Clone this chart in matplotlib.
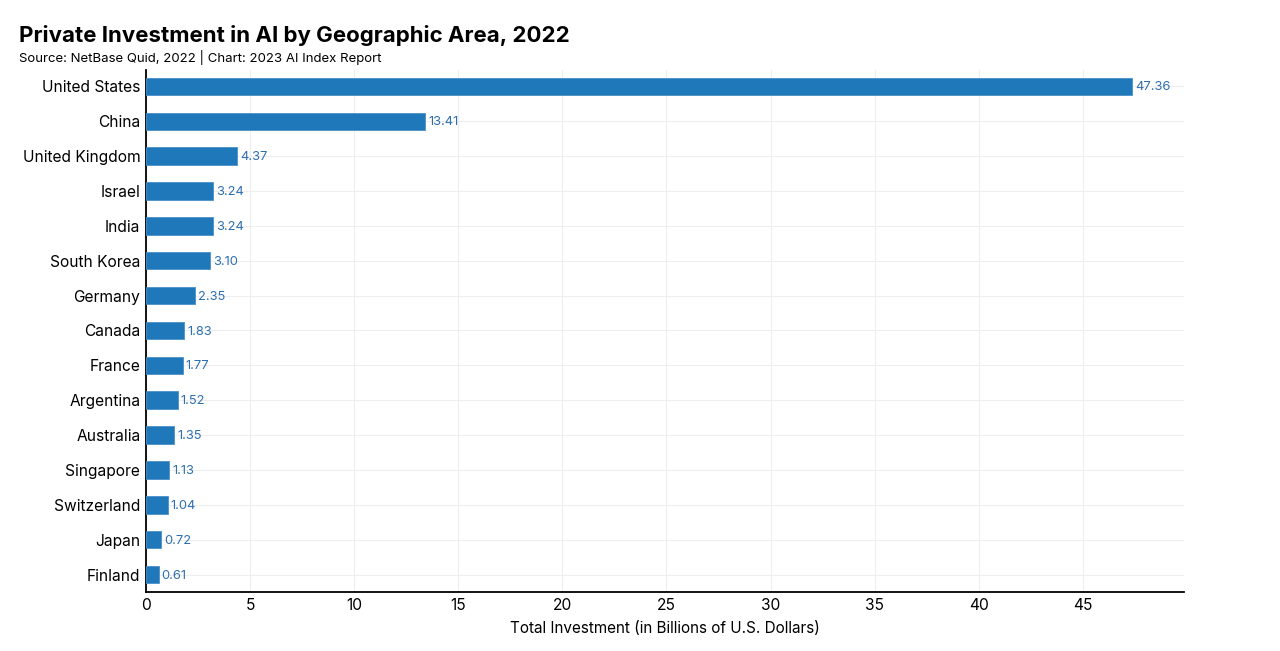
import numpy as np
import matplotlib
matplotlib.use('Agg')
import matplotlib.pyplot as plt

plt.rcParams['font.family'] = ['Inter', 'DejaVu Sans']

##data
countries = ['United States', 'China', 'United Kingdom', 'Israel', 'India',
             'South Korea', 'Germany', 'Canada', 'France', 'Argentina',
             'Australia', 'Singapore', 'Switzerland', 'Japan', 'Finland']
investment = [47.36, 13.41, 4.37, 3.24, 3.24, 3.10, 2.35, 1.83, 1.77, 1.52,
              1.35, 1.13, 1.04, 0.72, 0.61]
ticks = [0, 5, 10, 15, 20, 25, 30, 35, 40, 45]

fig = plt.figure(figsize=(12.8, 6.51), dpi=100)
ax = fig.add_axes([0.114, 0.0906, 0.811, 0.8014])

pos = np.arange(len(countries))
ax.barh(pos, investment, height=0.5, color='#1f78b9', edgecolor='#4a90c8',
        lw=0.6, zorder=3)

for p, v in zip(pos, investment):
    ax.text(v + 0.15, p + 0.03, '%.2f' % v, va='center', ha='left',
            fontsize=9.3, color='#2e6fb0', zorder=4)

##axes and grid
ax.set_xlim(0, 49.86)
ax.set_ylim(len(countries) - 0.5, -0.46)
ax.set_yticks(pos)
ax.set_yticklabels(countries, fontsize=11.2)
ax.set_xticks(ticks)
ax.set_xticklabels([str(t) for t in ticks], fontsize=11.2)
ax.tick_params(axis='both', length=0, pad=4)
ax.grid(True, color='#eeeeee', lw=0.8, zorder=0)
ax.set_axisbelow(True)
for s in ['top', 'right']:
    ax.spines[s].set_visible(False)
ax.spines['left'].set_linewidth(1.3)
ax.spines['bottom'].set_linewidth(1.3)
ax.set_xlabel('Total Investment (in Billions of U.S. Dollars)', fontsize=11,
              labelpad=6)

##title and source
fig.text(0.0145, 0.945, 'Private Investment in AI by Geographic Area, 2022',
         fontsize=16, fontweight='bold', va='center')
fig.text(0.0145, 0.911, 'Source: NetBase Quid, 2022 | Chart: 2023 AI Index Report',
         fontsize=9.5, va='center')

fig.savefig('out.png', dpi=100)
